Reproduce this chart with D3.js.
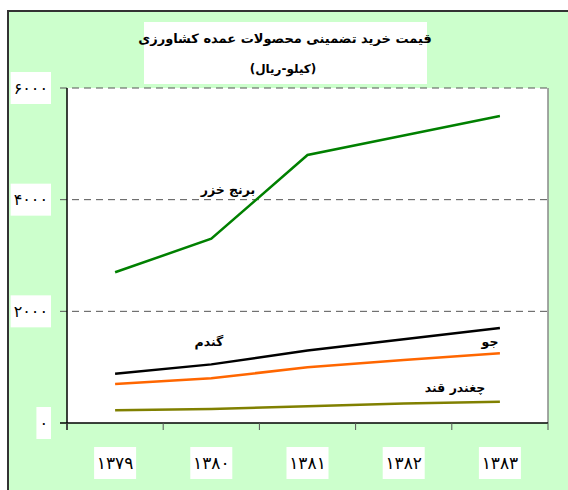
<!DOCTYPE html>
<html>
<head>
<meta charset="utf-8">
<script src="https://cdn.jsdelivr.net/npm/d3@7"></script>
<style>
  body { margin: 0; background: #fff; }
  svg text { font-family: "DejaVu Sans", sans-serif; }
</style>
</head>
<body>
<div id="chart"></div>
<script>
var years = ["۱۳۷۹", "۱۳۸۰", "۱۳۸۱", "۱۳۸۲", "۱۳۸۳"];
var rice = [2700, 3300, 4800, 5150, 5500];
var wheat = [880, 1050, 1300, 1500, 1700];
var barley = [700, 800, 1000, 1130, 1250];
var beet = [230, 250, 300, 350, 380];
var seriesNames = ["برنج خزر", "گندم", "جو", "چغندر قند"];
var yTicks = [0, 2000, 4000, 6000];
var yTickLabels = ["۰", "۲۰۰۰", "۴۰۰۰", "۶۰۰۰"];

(function() {
  var width = 568;
  var height = 490;
  var left = 67, right = 548, top = 88, bottom = 423;

  var svg = d3.select("#chart")
    .append("svg")
    .attr("width", width)
    .attr("height", height);

  // background + outer frame
  svg.append("rect")
    .attr("x", 8).attr("y", 11)
    .attr("width", width).attr("height", height)
    .attr("fill", "#ccffcc")
    .attr("stroke", "#333")
    .attr("stroke-width", 2);

  var x = d3.scaleBand().domain(years).range([left, right]).paddingInner(0);
  var y = d3.scaleLinear().domain([0, 6000]).range([bottom, top]);

  // plot area
  svg.append("rect")
    .attr("x", left).attr("y", top)
    .attr("width", right - left).attr("height", bottom - top)
    .attr("fill", "#fff");
  svg.append("line")
    .attr("x1", right).attr("x2", right)
    .attr("y1", top).attr("y2", bottom)
    .attr("stroke", "#888").attr("stroke-width", 1.5);

  // gridlines
  svg.selectAll(".grid")
    .data(yTicks.slice(1))
    .enter()
    .append("line")
    .attr("class", "grid")
    .attr("x1", left - 7).attr("x2", right)
    .attr("y1", function(d) { return y(d); })
    .attr("y2", function(d) { return y(d); })
    .attr("stroke", "#555")
    .attr("stroke-width", 1)
    .attr("stroke-dasharray", "7,5");

  // axis lines
  svg.append("line")
    .attr("x1", left).attr("x2", left)
    .attr("y1", top).attr("y2", bottom + 7)
    .attr("stroke", "#000").attr("stroke-width", 1.5);
  svg.append("line")
    .attr("x1", left - 7).attr("x2", right)
    .attr("y1", bottom).attr("y2", bottom)
    .attr("stroke", "#000").attr("stroke-width", 1.5);

  // x ticks at band edges
  var edges = years.map(function(d) { return x(d); }).concat([right]);
  svg.selectAll(".xtick")
    .data(edges)
    .enter()
    .append("line")
    .attr("x1", function(d) { return d; })
    .attr("x2", function(d) { return d; })
    .attr("y1", bottom).attr("y2", bottom + 7)
    .attr("stroke", "#555").attr("stroke-width", 1);

  // y labels with white boxes
  var yl = svg.selectAll(".ylab")
    .data(yTicks)
    .enter()
    .append("g")
    .attr("class", "ylab");
  var ylText = yl.append("text")
    .attr("x", 48)
    .attr("y", function(d) { return y(d); })
    .attr("dy", "0.35em")
    .attr("text-anchor", "end")
    .attr("font-size", 16)
    .text(function(d, i) { return yTickLabels[i]; });
  yl.insert("rect", "text")
    .each(function(d, i) {
      var b = ylText.nodes()[i].getBBox();
      d3.select(this)
        .attr("x", b.x - 3).attr("y", y(d) - 16)
        .attr("width", b.width + 6).attr("height", 32)
        .attr("fill", "#fff");
    });

  // x labels with white boxes
  var xl = svg.selectAll(".xlab")
    .data(years)
    .enter()
    .append("g")
    .attr("class", "xlab");
  xl.append("rect")
    .attr("x", function(d) { return x(d) + x.bandwidth() / 2 - 21; })
    .attr("y", 447)
    .attr("width", 42).attr("height", 32)
    .attr("fill", "#fff");
  xl.append("text")
    .attr("x", function(d) { return x(d) + x.bandwidth() / 2; })
    .attr("y", 463)
    .attr("dy", "0.35em")
    .attr("text-anchor", "middle")
    .attr("font-size", 17)
    .text(function(d) { return d; });

  // lines
  var series = [
    { values: rice, color: "#008000" },
    { values: wheat, color: "#000000" },
    { values: barley, color: "#ff6600" },
    { values: beet, color: "#808000" }
  ];
  var line = d3.line()
    .x(function(d, i) { return x(years[i]) + x.bandwidth() / 2; })
    .y(function(d) { return y(d); });

  svg.selectAll(".series")
    .data(series)
    .enter()
    .append("path")
    .attr("class", "series")
    .attr("d", function(d) { return line(d.values); })
    .attr("fill", "none")
    .attr("stroke", function(d) { return d.color; })
    .attr("stroke-width", 2.5);

  // series labels
  var labelPos = [[228, 190], [209, 342], [490, 342], [455, 388]];
  svg.selectAll(".slab")
    .data(seriesNames)
    .enter()
    .append("text")
    .attr("x", function(d, i) { return labelPos[i][0]; })
    .attr("y", function(d, i) { return labelPos[i][1]; })
    .attr("dy", "0.35em")
    .attr("text-anchor", "middle")
    .attr("font-size", 12.5)
    .attr("font-weight", "bold")
    .text(function(d) { return d; });

  // title
  svg.append("rect")
    .attr("x", 144).attr("y", 22)
    .attr("width", 283).attr("height", 62)
    .attr("fill", "#fff");
  svg.append("text")
    .attr("x", 285).attr("y", 38)
    .attr("dy", "0.35em")
    .attr("text-anchor", "middle")
    .attr("font-size", 13)
    .attr("font-weight", "bold")
    .text("قیمت خرید تضمینی محصولات عمده کشاورزی");
  svg.append("text")
    .attr("x", 283).attr("y", 69)
    .attr("dy", "0.35em")
    .attr("text-anchor", "middle")
    .attr("font-size", 12)
    .attr("font-weight", "bold")
    .text("(کیلو-ریال)");
})();
</script>
</body>
</html>
